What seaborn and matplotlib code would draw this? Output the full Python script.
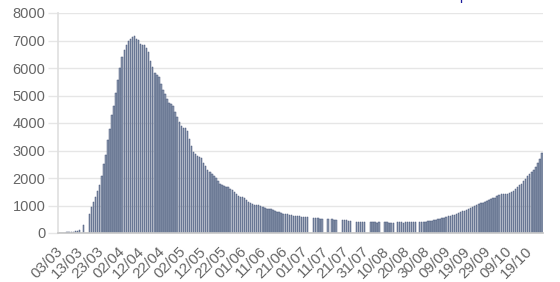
import numpy as np
import pandas as pd
import matplotlib
matplotlib.use("Agg")
import matplotlib.pyplot as plt
import seaborn as sns
from matplotlib.transforms import ScaledTranslation

# ---------------- data ----------------
start_date = "2020-03-03"
nan = np.nan
icu_patients = [
    5, 8, 10, 15, 20, 25, 35, 45, 60, 80,
    105, nan, 300, nan, nan, 699, 931, 1122, 1297, 1525,
    1746, 2082, 2516, 2827, 3375, 3787, 4273, 4632, 5107, 5565,
    6017, 6399, 6662, 6838, 6978, 7072, 7131, 7148, 7066, 7004,
    6883, 6845, 6821, 6730, 6599, 6248, 6027, 5833, 5744, 5683,
    5433, 5218, 5053, 4870, 4725, 4682, 4608, 4387, 4207, 4019,
    3878, 3827, 3819, 3696, 3430, 3147, 2961, 2868, 2812, 2776,
    2712, 2542, 2428, 2299, 2203, 2132, 2087, 1998, 1894, 1794,
    1745, 1701, 1665, 1655, 1609, 1555, 1501, 1429, 1361, 1319,
    1302, 1288, 1202, 1137, 1094, 1053, 1033, 1024, 1002, 970,
    928, 902, 879, 869, 864, 852, 810, 780, 750, 720,
    700, 690, 680, 660, 645, 635, 628, 620, 610, 600,
    590, 578, 565, nan, nan, 540, 532, 528, 520, 515,
    nan, nan, 508, nan, 494, 490, 482, nan, nan, 469,
    460, 456, 443, 433, nan, nan, 396, 390, 386, 389,
    384, nan, nan, 388, 387, 382, 381, 385, nan, nan,
    389, 385, 380, 378, 375, nan, 385, 392, 383, 380,
    387, 386, 385, 389, 391, 398, nan, 400, 404, 410,
    415, 420, 430, 445, 460, 480, 495, 510, 530, 560,
    590, 615, 630, 650, 665, 700, 740, 780, 800, 815,
    830, 860, 900, 940, 985, 1030, 1065, 1080, 1100, 1130,
    1170, 1210, 1240, 1260, 1290, 1350, 1400, 1410, 1415, 1420,
    1430, 1440, 1480, 1530, 1600, 1680, 1740, 1800, 1880, 1960,
    2070, 2140, 2220, 2300, 2400, 2530, 2700, 2910,
]
tick_labels = ["03/03", "13/03", "23/03", "02/04", "12/04", "22/04", "02/05",
               "12/05", "22/05", "01/06", "11/06", "21/06", "01/07", "11/07",
               "21/07", "31/07", "10/08", "20/08", "30/08", "09/09", "19/09",
               "29/09", "09/10", "19/10"]
y_ticks = [0, 1000, 2000, 3000, 4000, 5000, 6000, 7000, 8000]

# ---------------- style ----------------
sns.set_theme(style="white")
plt.rcParams["font.family"] = ["Liberation Sans", "DejaVu Sans"]

start = pd.Timestamp(start_date)
df = pd.DataFrame({"day": np.arange(len(icu_patients)), "value": icu_patients}).dropna()
tick_pos = [(pd.Timestamp(f"2020-{t[3:]}-{t[:2]}") - start).days for t in tick_labels]

W, H = 560, 282
fig = plt.figure(figsize=(W / 100, H / 100), dpi=100)
ax = fig.add_axes([58 / W, 1 - 233 / H, (543 - 58) / W, (233 - 13) / H])

sns.barplot(data=df, x="day", y="value", native_scale=True, width=0.7,
            color="#8b98ad", saturation=1, edgecolor="#46567a", linewidth=0.35,
            errorbar=None, ax=ax, zorder=2)

ax.set_xlim(-0.5, len(icu_patients) - 0.5)
ax.set_ylim(0, 8000)
ax.set_yticks(y_ticks)
ax.set_yticklabels([str(v) for v in y_ticks])
ax.set_xticks(tick_pos)
ax.set_xticklabels(tick_labels, rotation=45, ha="right", rotation_mode="anchor")
ax.set_xlabel("")
ax.set_ylabel("")

ax.grid(axis="y", color="#e6e6e6", linewidth=1, zorder=0)
ax.grid(axis="x", visible=False)
for s in ["top", "right"]:
    ax.spines[s].set_visible(False)
ax.spines["left"].set_color("#e0e0e0")
ax.spines["bottom"].set_color("#c8c8c8")
ax.tick_params(axis="y", length=7, color="#e6e6e6", width=1, pad=2,
               labelsize=10.5, labelcolor="#666666", left=True)
ax.tick_params(axis="x", length=0, pad=8, labelsize=11, labelcolor="#666666")
offset = ScaledTranslation(-3 / 100, 0, fig.dpi_scale_trans)
for lab in ax.get_xticklabels():
    lab.set_transform(lab.get_transform() + offset)

fig.text(463 / W, 1.0, "p", color="#1c1c9c", fontsize=10, ha="center", va="baseline")

fig.savefig("out.png", dpi=100)
